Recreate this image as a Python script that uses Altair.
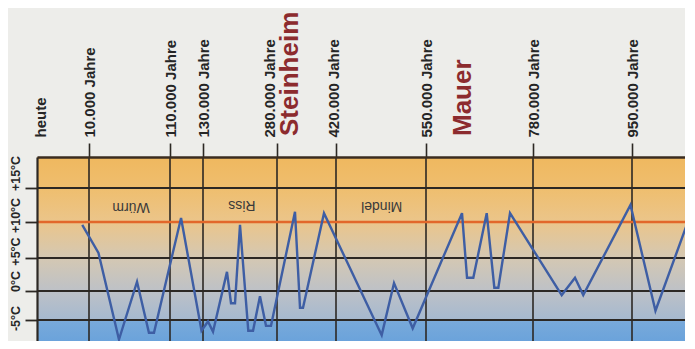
import altair as alt
import pandas as pd

# --- Zeitachse (Jahre vor heute) ---
TICK_YEARS = [0, 10000, 110000, 130000, 280000, 420000, 550000, 780000, 950000]
TICK_LABELS = ["heute", "10.000 Jahre", "110.000 Jahre", "130.000 Jahre", "280.000 Jahre",
               "420.000 Jahre", "550.000 Jahre", "780.000 Jahre", "950.000 Jahre"]

# --- Temperaturkurve (Jahre vor heute, °C) ---
CURVE_YEARS = [8700, 21700, 47000, 69300, 84000, 90200, 116700, 129100, 140100, 150300,
               178600, 186800, 194900, 205000, 221800, 231400, 245500, 257700, 267800,
               322700, 334600, 341700, 391500, 486000, 503800, 530800, 627400, 638200,
               651700, 680500, 696900, 705500, 730600, 829300, 852100, 866300, 947400,
               990300, 1058200]
CURVE_TEMPS = [9.6, 5.7, -9.0, 1.4, -7.6, -7.6, 10.6, -7.2, -5.3, -7.4,
               2.9, -2.1, -2.1, 9.6, -7.2, -7.2, -0.9, -6.2, -6.2,
               11.5, -2.9, -2.9, 11.3, -8.1, 1.2, -6.7, 11.3, 2.0,
               2.0, 11.3, 0.5, 0.5, 11.3, -0.7, 2.0, -0.7, 12.5,
               -3.4, 12.9]

# --- Temperaturachse ---
TEMP_TICKS = [-5, 0, 5, 10, 15]
GRID_TEMPS = [15, 5, 0, -5]
TODAY_TEMP = [10]

# --- Kaltzeiten ---
PERIODS = ["Würm", "Riss", "Mindel"]
PERIOD_YEARS = [62000, 209000, 486000]
PERIOD_TEMPS = [12.2, 12.5, 12.35]

# --- Fundorte ---
SITES = ["Steinheim", "Mauer"]
SITE_YEARS = [312000, 630000]

# ---------------- chart ----------------
curve = pd.DataFrame({"jahr": CURVE_YEARS, "temp": CURVE_TEMPS})
vlines = pd.DataFrame({"jahr": TICK_YEARS[1:]})
hlines = pd.DataFrame({"temp": GRID_TEMPS})
today = pd.DataFrame({"temp": TODAY_TEMP})
periods = pd.DataFrame({"name": PERIODS, "jahr": PERIOD_YEARS, "temp": PERIOD_TEMPS})
sites = pd.DataFrame({"name": SITES, "jahr": SITE_YEARS})

W, H = 648, 184
# piecewise (non-linear) time axis as printed
xscale = alt.Scale(domain=TICK_YEARS + [1041000],
                   range=[0, 52, 133, 166, 240, 299, 389, 496, 595, W],
                   nice=False, zero=False)
yscale = alt.Scale(domain=[-9.3, -5, 0, 5, 10, 15, 19.56],
                   range=[H, 163, 134, 101, 65, 31, 0],
                   nice=False, zero=False)

FONT = "Liberation Sans"
DARK = "#2C2824"

label_expr = "{}[indexof({}, datum.value)]".format(
    "[" + ",".join("'%s'" % s for s in TICK_LABELS) + "]",
    "[" + ",".join(str(v) for v in TICK_YEARS) + "]")

x_axis = alt.Axis(orient="top", values=TICK_YEARS, labelExpr=label_expr, title=None,
                  grid=False, labelAngle=-90, labelAlign="left", labelBaseline="middle",
                  labelPadding=6, tickSize=14, tickWidth=1.6, tickColor=DARK,
                  tickOpacity={"condition": {"test": "datum.value == 0", "value": 0}, "value": 1},
                  labelOffset={"condition": [
                      {"test": "datum.value == 0", "value": 3},
                      {"test": "datum.value == 280000", "value": -8},
                      {"test": "datum.value == 420000", "value": -3}], "value": 0},
                  domainColor="#3A2C20", domainWidth=2.5, labelFont=FONT,
                  labelFontSize=15, labelFontWeight="bold", labelColor="#262626",
                  labelOverlap=False, labelBound=False, labelFlush=False, zindex=1)
y_axis = alt.Axis(orient="left", values=TEMP_TICKS, title=None, grid=False,
                  labelExpr="(datum.value > 0 ? '+' : '') + datum.value + '°C'",
                  labelAngle=-90, labelAlign="center", labelBaseline="bottom",
                  labelOffset={"condition": [
                      {"test": "datum.value == 15", "value": -15},
                      {"test": "datum.value == 0", "value": -10},
                      {"test": "datum.value == -5", "value": -2}], "value": -7},
                  labelPadding=3, tickSize=12, tickWidth=1.8,
                  tickColor=DARK, domainColor=DARK, domainWidth=2.2, labelFont=FONT,
                  labelFontSize=12.5, labelFontWeight="bold", labelColor="#262626",
                  labelOverlap=False, labelBound=False, labelFlush=False, zindex=1)

X = lambda: alt.X("jahr:Q", scale=xscale, axis=x_axis)
Y = lambda: alt.Y("temp:Q", scale=yscale, axis=y_axis)

bg = alt.Chart(pd.DataFrame({"a": [0]})).mark_rect(
    fill=alt.Gradient(gradient="linear", x1=0, x2=0, y1=0, y2=1, stops=[
        alt.GradientStop(color="#EFB85F", offset=0),
        alt.GradientStop(color="#EFBE6E", offset=0.17),
        alt.GradientStop(color="#EBC58A", offset=0.35),
        alt.GradientStop(color="#D4C8B3", offset=0.55),
        alt.GradientStop(color="#BDC1C7", offset=0.73),
        alt.GradientStop(color="#A6B9CF", offset=0.88),
        alt.GradientStop(color="#78A9DA", offset=0.895),
        alt.GradientStop(color="#6BA3DB", offset=1),
    ]), stroke=None
).encode(x=alt.value(0), x2=alt.value("width"), y=alt.value(0), y2=alt.value("height"))

hrules = alt.Chart(hlines).mark_rule(color=DARK, strokeWidth=2).encode(y=Y())
vrules = alt.Chart(vlines).mark_rule(color=DARK, strokeWidth=1.6).encode(x=X())
orange = alt.Chart(today).mark_rule(color="#E2672A", strokeWidth=2.6).encode(y=Y())

line = alt.Chart(curve).mark_line(color="#3E5EA4", strokeWidth=2.4, clip=True).encode(
    x=X(), y=Y())

ptext = alt.Chart(periods).mark_text(angle=180, font=FONT, fontSize=14, color="#3A3A3A",
                                     align="center", baseline="middle").encode(
    x=X(), y=Y(), text="name:N")

stext = alt.Chart(sites).mark_text(angle=270, font=FONT, fontSize=26, fontWeight="bold",
                                   color="#8C2B2E", align="left", baseline="middle").encode(
    x=X(), y=alt.value(-21), text="name:N")

chart = alt.layer(bg, hrules, vrules, orange, line, ptext, stext).properties(
    width=W, height=H,
    padding={"left": 29, "top": 149, "right": 0, "bottom": 0},
    autosize=alt.AutoSizeParams(type="none"),
    background="#EDEDEA",
).configure_view(stroke=None)

chart.save("out.html", embed_options={"renderer": "svg", "actions": False})
